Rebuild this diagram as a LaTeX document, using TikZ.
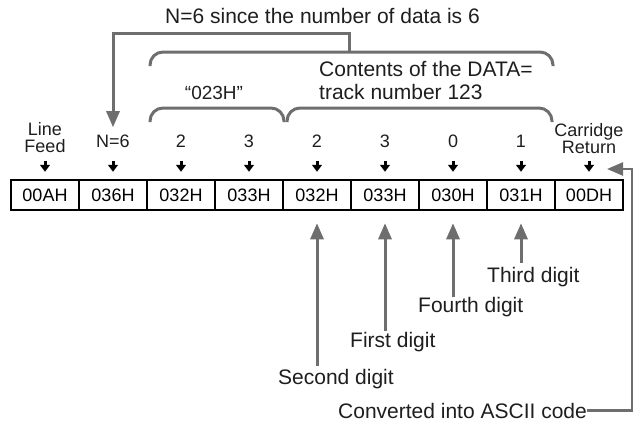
\documentclass[tikz,border=0pt]{standalone}
\usepackage{fontspec}
\setmainfont{Liberation Sans}
\usetikzlibrary{arrows.meta,calc}
\definecolor{conn}{HTML}{6E6E6E}
\definecolor{ink}{HTML}{1E1E1E}
\begin{document}
\begin{tikzpicture}[x=1pt,y=-1pt,
  big/.style={font=\fontsize{21}{23}\selectfont, text=ink, inner sep=0pt, anchor=base},
  small/.style={font=\fontsize{18}{17}\selectfont, text=ink, inner sep=0pt, anchor=base, align=center},
  cell/.style={draw=black, line width=2.5pt, minimum width=68pt, minimum height=30pt, inner sep=0pt, font=\fontsize{18}{20}\selectfont},
  connline/.style={draw=conn, line width=3pt},
  bigarr/.style={connline, -{Triangle[width=13pt,length=16pt]}},
  smallarr/.style={draw=black, line width=3pt, -{Triangle[width=10pt,length=7pt]}},
  bracestyle/.style={connline, rounded corners=13pt},
]
\useasboundingbox (0,0) rectangle (640,424);

% cells
\node[cell] (b1) at (45,195) {00AH};
\node[cell] (b2) at (113,195) {036H};
\node[cell] (b3) at (181,195) {032H};
\node[cell] (b4) at (249,195) {033H};
\node[cell] (b5) at (317,195) {032H};
\node[cell] (b6) at (385,195) {033H};
\node[cell] (b7) at (453,195) {030H};
\node[cell] (b8) at (521,195) {031H};
\node[cell] (b9) at (589,195) {00DH};

% labels above cells
\node[small] (l1) at (45,152) {Line\\Feed};
\node[small] (l2) at (113,147) {N=6};
\node[small] (l3) at (181,147) {2};
\node[small] (l4) at (249,147) {3};
\node[small] (l5) at (317,147) {2};
\node[small] (l6) at (385,147) {3};
\node[small] (l7) at (453,147) {0};
\node[small] (l8) at (521,147) {1};
\node[small] (l9) at (589,153) {Carridge\\Return};

\foreach \i in {1,...,9}{
  \draw[smallarr] ([yshift=18pt]b\i.north) -- ([yshift=7pt]b\i.north);
}

% braces
\draw[bracestyle] (150,66) -- (150,52) -- (553,52) -- (553,66);
\draw[bracestyle] (150,122) -- (150,108) -- (284,108) -- (284,122);
\draw[bracestyle] (287,122) -- (287,108) -- (552,108) -- (552,122);
\coordinate (ub) at (349,52);

% top texts
\node[big] (top) at (322.5,23) {N=6 since the number of data is 6};
\node[big, anchor=base west] (cont) at (319,76) {Contents of the DATA=};
\node[big, anchor=base west] (trk) at (319,99) {track number 123};
\node[font=\fontsize{19}{21}\selectfont, text=ink, inner sep=0pt, anchor=base] (q) at (214,99) {“023H”};

\draw[bigarr] (ub) -- ++(0,-19) -| ([yshift=7pt]l2.north);

% bottom labels
\node[big, anchor=base west] (sd) at (278,384) {Second digit};
\node[big, anchor=base west] (fd) at (350,347) {First digit};
\node[big, anchor=base west] (fo) at (418,312) {Fourth digit};
\node[big, anchor=base west] (td) at (487,282) {Third digit};
\node[big, anchor=base west] (cv) at (338,418) {Converted into ASCII code};

\draw[bigarr, shorten <=3pt] (b5.south |- sd.north) -- ([yshift=-12pt]b5.south);
\draw[bigarr, shorten <=1pt] (b6.south |- fd.north) -- ([yshift=-12pt]b6.south);
\draw[bigarr] (b7.south |- fo.north) -- ([yshift=-12pt]b7.south);
\draw[bigarr, shorten <=3.5pt] (b8.south |- td.north) -- ([yshift=-12pt]b8.south);

\coordinate (crtip) at (607,169);
\draw[bigarr, line width=2.5pt] (cv.east) -| (632,169) -- (crtip);
\end{tikzpicture}
\end{document}
